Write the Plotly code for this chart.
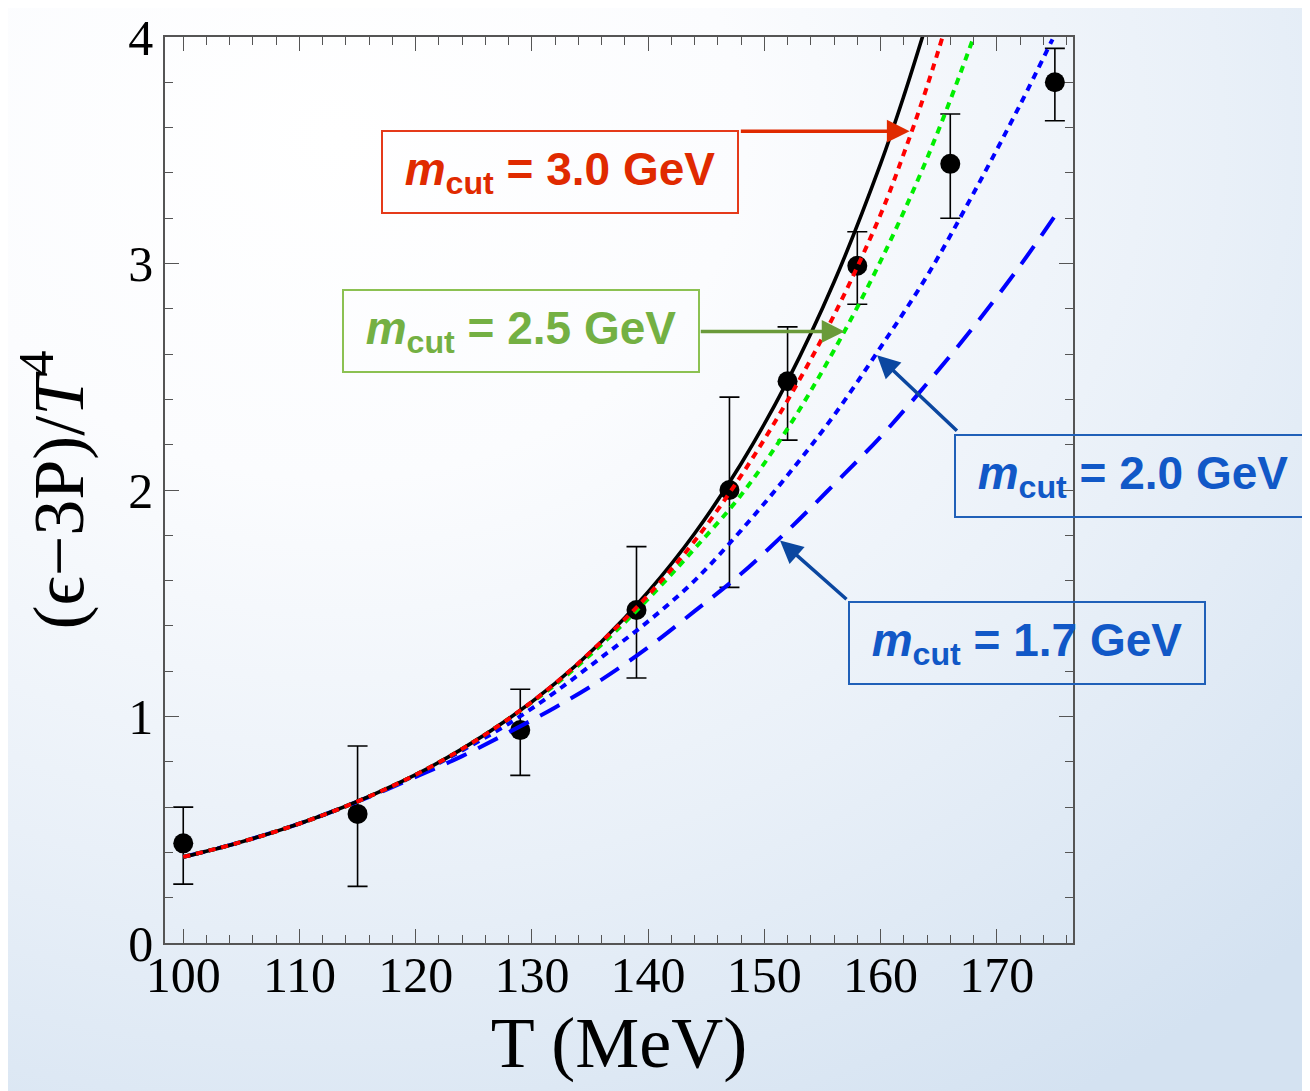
import base64
import plotly.graph_objects as go

# ---------------- data ----------------
T_data = [100, 115, 129, 139, 147, 152, 158, 166, 175]
y_data = [0.44, 0.57, 0.94, 1.47, 2.00, 2.48, 2.99, 3.44, 3.80]
err_plus = [0.16, 0.30, 0.18, 0.28, 0.41, 0.24, 0.15, 0.22, 0.15]
err_minus = [0.18, 0.32, 0.20, 0.30, 0.43, 0.26, 0.17, 0.24, 0.17]

T_black = [100, 104, 108, 112, 116, 120, 124, 128, 132, 136, 140, 144, 148, 152, 156,
           160, 162, 164]
y_black = [0.380, 0.432, 0.493, 0.564, 0.647, 0.743, 0.857, 0.990, 1.146, 1.331, 1.550,
           1.808, 2.116, 2.482, 2.918, 3.440, 3.739, 4.066]

T_red = [100, 104, 108, 112, 116, 120, 124, 128, 132, 136, 140, 144, 148, 152, 156,
         160, 162, 164, 166]
y_red = [0.380, 0.432, 0.493, 0.564, 0.647, 0.743, 0.857, 0.990, 1.146, 1.331, 1.535,
         1.775, 2.063, 2.395, 2.772, 3.216, 3.485, 3.781, 4.114]

T_green = [100, 104, 108, 112, 116, 120, 124, 128, 132, 136, 140, 144, 148, 152, 156,
           160, 164, 168, 170]
y_green = [0.380, 0.432, 0.493, 0.564, 0.647, 0.743, 0.857, 0.990, 1.140, 1.318, 1.519,
           1.741, 1.978, 2.271, 2.617, 3.010, 3.464, 3.998, 4.303]

T_blue_dot = [100, 104, 108, 112, 116, 120, 124, 128, 132, 136, 140, 144, 148, 152, 156,
              160, 164, 168, 172, 174.8]
y_blue_dot = [0.380, 0.432, 0.493, 0.564, 0.647, 0.741, 0.850, 0.968, 1.108, 1.262, 1.420,
              1.600, 1.822, 2.065, 2.330, 2.630, 2.945, 3.310, 3.700, 3.990]

T_blue_dash = [100, 104, 108, 112, 116, 120, 124, 128, 132, 136, 140, 144, 148, 152, 156,
               160, 164, 168, 172, 175]
y_blue_dash = [0.380, 0.432, 0.493, 0.564, 0.645, 0.733, 0.825, 0.930, 1.040, 1.163, 1.305,
               1.465, 1.630, 1.820, 2.025, 2.235, 2.470, 2.720, 2.990, 3.210]

labels = ["3.0", "2.5", "2.0", "1.7"]

# ---------------- figure ----------------
fig = go.Figure()

fig.add_trace(go.Scatter(
    x=T_data, y=y_data, mode="markers",
    marker=dict(color="black", size=20),
    error_y=dict(type="data", symmetric=False, array=err_plus, arrayminus=err_minus,
                 color="black", thickness=1.6, width=10),
    showlegend=False))

fig.add_trace(go.Scatter(x=T_blue_dash, y=y_blue_dash, mode="lines", line_shape="spline",
                         line=dict(color="#0000ff", width=4, dash="22px,13px"), showlegend=False))
fig.add_trace(go.Scatter(x=T_blue_dot, y=y_blue_dot, mode="lines", line_shape="spline",
                         line=dict(color="#0000ff", width=4, dash="7px,6px"), showlegend=False))
fig.add_trace(go.Scatter(x=T_green, y=y_green, mode="lines", line_shape="spline",
                         line=dict(color="#00ee00", width=4, dash="7px,6px"), showlegend=False))
fig.add_trace(go.Scatter(x=T_black, y=y_black, mode="lines", line_shape="spline",
                         line=dict(color="black", width=3.6), showlegend=False))
fig.add_trace(go.Scatter(x=T_red, y=y_red, mode="lines", line_shape="spline",
                         line=dict(color="#ff0000", width=4, dash="7px,6px"), showlegend=False))

serif = "Liberation Serif, Times New Roman, serif"
sans = "Liberation Sans, Arial, sans-serif"


def box(text_val, x, y, color, border, xref="x", yref="y"):
    return dict(
        x=x, y=y, xref=xref, yref=yref, showarrow=False,
        xanchor="center", yanchor="middle",
        text="<b><i>m</i><sub>cut</sub> = " + text_val + " GeV</b>",
        font=dict(family=sans, size=46, color=color),
        bordercolor=border, borderwidth=2, borderpad=2,
        width=350, height=76, align="center", valign="middle")


def arrow(x, y, ax, ay, color):
    return dict(
        x=x, y=y, ax=ax, ay=ay, xref="x", yref="y", axref="x", ayref="y",
        text="", showarrow=True, arrowhead=2, arrowsize=1.3, arrowwidth=3.5,
        arrowcolor=color)


annotations = [
    box(labels[0], 132.42, 3.405, "#e02a00", "#e53a1a"),
    box(labels[1], 129.02, 2.70, "#74b043", "#8cc152"),
    box(labels[2], 1.0666, 0.516, "#1158c7", "#2060b8", "paper", "paper"),
    box(labels[3], 172.6, 1.323, "#1158c7", "#2060b8"),
    arrow(162.5, 3.584, 147.85, 3.584, "#e02a00"),
    arrow(156.9, 2.70, 144.4, 2.70, "#6a9a3a"),
    arrow(159.7, 2.595, 166.7, 2.255, "#0b47a0"),
    arrow(151.35, 1.777, 157.2, 1.512, "#0b47a0"),
]

# background gradient as an inline svg
svg = ('<svg xmlns="http://www.w3.org/2000/svg" width="1310" height="1091">'
       '<defs><radialGradient id="g" cx="0.25" cy="0.12" r="1.05">'
       '<stop offset="0" stop-color="#ffffff"/>'
       '<stop offset="0.3" stop-color="#fbfcfe"/>'
       '<stop offset="0.65" stop-color="#e9f0f8"/>'
       '<stop offset="1" stop-color="#d4e2f1"/>'
       '</radialGradient></defs>'
       '<rect width="1310" height="1091" fill="url(#g)"/></svg>')
uri = "data:image/svg+xml;base64," + base64.b64encode(svg.encode()).decode()

# page body adds an 8px offset, so the figure is 8px smaller
W, H = 1302, 1083
L, R, Tm, B = 157, 237, 29, 148
pw, ph = W - L - R, H - Tm - B

fig.update_layout(
    width=W, height=H,
    margin=dict(l=L, r=R, t=Tm, b=B, pad=0, autoexpand=False),
    paper_bgcolor="white",
    plot_bgcolor="rgba(0,0,0,0)",
    annotations=annotations,
    images=[dict(source=uri, xref="paper", yref="paper",
                 x=-L / pw, y=1 + Tm / ph, sizex=W / pw, sizey=H / ph,
                 xanchor="left", yanchor="top", sizing="stretch", layer="below")],
    showlegend=False,
)

axis_common = dict(
    showgrid=False, zeroline=False, showline=True, linecolor="#555555", linewidth=1.5,
    mirror="ticks", ticks="inside", tickcolor="#555555", tickwidth=1.3, automargin=False,
    tickfont=dict(family=serif, size=50, color="black"),
)

fig.update_xaxes(
    range=[98.43, 176.56], tick0=100, dtick=10, ticklen=14, ticklabelstandoff=-13,
    minor=dict(dtick=2, tick0=100, ticks="inside", ticklen=8, tickcolor="#555555", tickwidth=1.2),
    title=dict(text="T (MeV)", font=dict(family=serif, size=72, color="black"), standoff=11),
    **axis_common)

fig.update_yaxes(
    range=[0, 4], tick0=0, dtick=1, ticklen=14,
    minor=dict(dtick=0.2, tick0=0, ticks="inside", ticklen=8, tickcolor="#555555", tickwidth=1.2),
    title=dict(text="(ϵ−3P)/<i>T</i><sup>4</sup>", font=dict(family=serif, size=72, color="black"),
               standoff=26),
    **axis_common)

fig.write_html("out.html")
